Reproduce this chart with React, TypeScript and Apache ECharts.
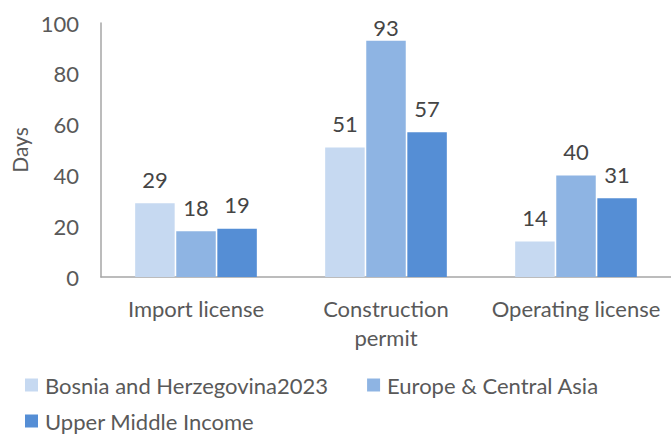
import React, { useEffect, useRef } from "react";
import * as echarts from "echarts";

const categories = ["Import license", "Construction\npermit", "Operating license"];
const seriesNames = ["Bosnia and Herzegovina2023", "Europe & Central Asia", "Upper Middle Income"];
const bosnia = [29, 51, 14];
const eca = [18, 93, 40];
const umi = [19, 57, 31];
const yTicks = { min: 0, max: 100, interval: 20 };
const colors = ["#C6D9F1", "#8EB4E3", "#558ED5"];
const FONT = "Lato";

export default function App() {
  const ref = useRef<HTMLDivElement>(null);
  useEffect(() => {
    const chart = echarts.init(ref.current!, null, { renderer: "svg" });
    const mk = (name: string, data: number[], color: string) => ({
      name,
      type: "bar",
      data: data.map((v) => ({
        value: v,
        label: v > 90 ? { distance: 2 } : undefined,
      })),
      barWidth: 39.5,
      barGap: "4%",
      itemStyle: { color },
      label: {
        show: true,
        position: "top",
        distance: 13,
        color: "#454545",
        fontSize: 22,
        fontFamily: FONT,
      },
    });
    const legendText = { color: "#595959", fontSize: 22, fontFamily: FONT, lineHeight: 22, padding: [0, 0, 0, 2] };
    chart.setOption({
      animation: false,
      textStyle: { fontFamily: FONT },
      grid: { left: 101, right: 0, top: 23, bottom: 157, containLabel: false },
      legend: [
        {
          left: 20,
          top: 369,
          itemWidth: 13,
          itemHeight: 13,
          itemGap: 39,
          icon: "rect",
          textStyle: legendText,
          data: [seriesNames[0], seriesNames[1]],
        },
        {
          left: 20,
          top: 405,
          itemWidth: 13,
          itemHeight: 13,
          icon: "rect",
          textStyle: legendText,
          data: [seriesNames[2]],
        },
      ],
      xAxis: {
        type: "category",
        data: categories,
        axisLine: { lineStyle: { color: "#A6A6A6", width: 1.5 } },
        axisTick: { show: false },
        axisLabel: { color: "#595959", fontSize: 22, fontFamily: FONT, margin: 17, lineHeight: 29, interval: 0 },
      },
      yAxis: {
        type: "value",
        min: yTicks.min,
        max: yTicks.max,
        interval: yTicks.interval,
        name: "Days",
        nameLocation: "middle",
        nameGap: 70,
        nameTextStyle: { color: "#595959", fontSize: 21, fontFamily: FONT },
        axisLine: { show: true, lineStyle: { color: "#A6A6A6", width: 1.5 } },
        splitLine: { show: false },
        axisLabel: { color: "#595959", fontSize: 22, fontFamily: FONT, margin: 22 },
      },
      series: [mk(seriesNames[0], bosnia, colors[0]), mk(seriesNames[1], eca, colors[1]), mk(seriesNames[2], umi, colors[2])],
    });
    return () => chart.dispose();
  }, []);
  return <div ref={ref} style={{ width: 671, height: 434, position: "absolute", left: 0, top: 0 }} />;
}
